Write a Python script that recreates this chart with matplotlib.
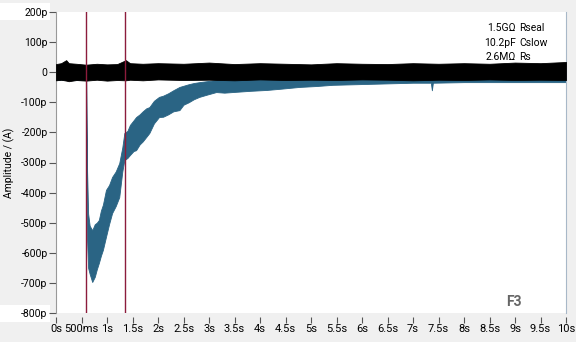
import matplotlib.pyplot as plt
from matplotlib.patches import Rectangle

plt.rcParams['font.family'] = ['Roboto', 'DejaVu Sans']

# axis ticks
x_ticks = [i * 0.5 for i in range(21)]
x_labels = ['0s', '500ms', '1s', '1.5s', '2s', '2.5s', '3s', '3.5s', '4s', '4.5s', '5s',
            '5.5s', '6s', '6.5s', '7s', '7.5s', '8s', '8.5s', '9s', '9.5s', '10s']
y_ticks = [200, 100, 0, -100, -200, -300, -400, -500, -600, -700, -800]
y_labels = ['200p', '100p', '0', '-100p', '-200p', '-300p', '-400p', '-500p', '-600p', '-700p', '-800p']

# cursors (s)
cursor_times = [0.59, 1.36]

# seal test params
param_values = ['1.5G\u03a9', '10.2pF', '2.6M\u03a9']
param_names = ['Rseal', 'Cslow', 'Rs']

# blue trace envelope (pA)
blue_t = [0.0, 0.59, 0.60, 0.61, 0.63, 0.66, 0.71, 0.76, 0.80, 0.84, 0.88, 0.92, 0.98,
          1.04, 1.10, 1.17, 1.24, 1.30, 1.34, 1.40, 1.45, 1.52, 1.57, 1.64, 1.70, 1.77,
          1.83, 1.92, 2.02, 2.1, 2.2, 2.3, 2.42, 2.5, 2.6, 2.7, 2.81, 2.95, 3.14, 3.3,
          3.46, 3.8, 4.13, 4.4, 4.77, 5.1, 5.42, 6.09, 7.0, 7.35, 7.37, 7.39, 8.0, 9.0, 10.0]
blue_hi = [15, 15, -175, -330, -470, -510, -525, -505, -500, -491, -460, -440, -391,
           -375, -348, -330, -302, -250, -202, -195, -175, -160, -149, -140, -130, -120,
           -116, -95, -82, -78, -70, -60, -49, -45, -40, -36, -33, -30, -26, -22,
           -20, -18, -16, -15, -14, -13, -12, -10, -10, -10, -10, -10, -10, -10, -10]
blue_lo = [-25, -25, -350, -560, -650, -670, -697, -680, -655, -634, -610, -590, -547,
           -505, -468, -445, -415, -330, -292, -285, -275, -262, -259, -240, -230, -215,
           -202, -170, -149, -148, -140, -130, -126, -108, -100, -90, -82, -75, -66, -68,
           -66, -62, -59, -55, -49, -46, -42, -39, -35, -35, -60, -35, -33, -33, -33]

# black trace envelope (pA)
black_t = [0.0, 0.1, 0.2, 0.25, 0.4, 0.59, 0.8, 1.0, 1.2, 1.37, 1.45, 1.7, 2.0, 2.5, 3.0,
           3.5, 4.0, 4.5, 5.0, 5.5, 6.0, 6.5, 7.0, 7.5, 8.0, 8.5, 9.0, 9.5, 10.0]
black_hi = [27, 30, 40, 30, 28, 25, 28, 26, 27, 40, 30, 28, 30, 28, 32, 27, 30, 28, 26,
            30, 28, 27, 30, 28, 30, 28, 32, 30, 34]
black_lo = [-27, -25, -28, -30, -26, -28, -25, -28, -26, -27, -25, -27, -24, -26, -25,
            -27, -24, -26, -25, -26, -24, -25, -27, -25, -26, -24, -26, -25, -26]

fig = plt.figure(figsize=(5.76, 3.42), dpi=100, facecolor='#f0f0f0')
ax = fig.add_axes([56 / 576, 1 - 313 / 342, 510 / 576, 301 / 342])
ax.set_facecolor('white')

ax.fill_between(blue_t, blue_hi, blue_lo, color='#2a6484', linewidth=0.6, edgecolor='#2a6484', zorder=2)
ax.fill_between(black_t, black_hi, black_lo, color='black', linewidth=0.6, edgecolor='black', zorder=3)
for t in cursor_times:
    ax.axvline(t, color='#8c1c3c', linewidth=1, zorder=4)

ax.set_xlim(0, 10)
ax.set_ylim(-800, 200)
ax.set_xticks(x_ticks, x_labels)
ax.set_yticks(y_ticks, y_labels)
ax.tick_params(axis='x', direction='out', length=4, color='#555555', pad=1, labelsize=8)
ax.tick_params(axis='y', direction='out', length=5, color='#555555', pad=1, labelsize=7.5)

ax.spines['top'].set_visible(False)
ax.spines['bottom'].set_visible(False)
ax.spines['bottom'].set_position(('outward', 3))
ax.spines['left'].set_color('#999999')
ax.spines['right'].set_color('#a8b8c8')

ax.set_ylabel('Amplitude / (A)', fontsize=7.5)
ax.yaxis.set_label_coords(-0.08, 0.5)

for i in range(3):
    yy = [0.947, 0.897, 0.850][i]
    ax.text(0.902, yy, param_values[i], transform=ax.transAxes, ha='right', va='center', fontsize=7.5)
    ax.text(0.908, yy, param_names[i], transform=ax.transAxes, ha='left', va='center', fontsize=7.5)

ax.text(0.898, 0.037, 'F3', transform=ax.transAxes, ha='center', va='center',
        fontsize=10, fontweight='bold', color='#666666')

# white label boxes behind top and bottom y labels
fig.patches.append(Rectangle((0, 1 - 20 / 342), 50 / 576, 17 / 342, transform=fig.transFigure,
                             facecolor='white', edgecolor='none', zorder=-1))
fig.patches.append(Rectangle((0, 1 - 322 / 342), 50 / 576, 17 / 342, transform=fig.transFigure,
                             facecolor='white', edgecolor='none', zorder=-1))

fig.savefig('out.png', dpi=100, facecolor=fig.get_facecolor())
